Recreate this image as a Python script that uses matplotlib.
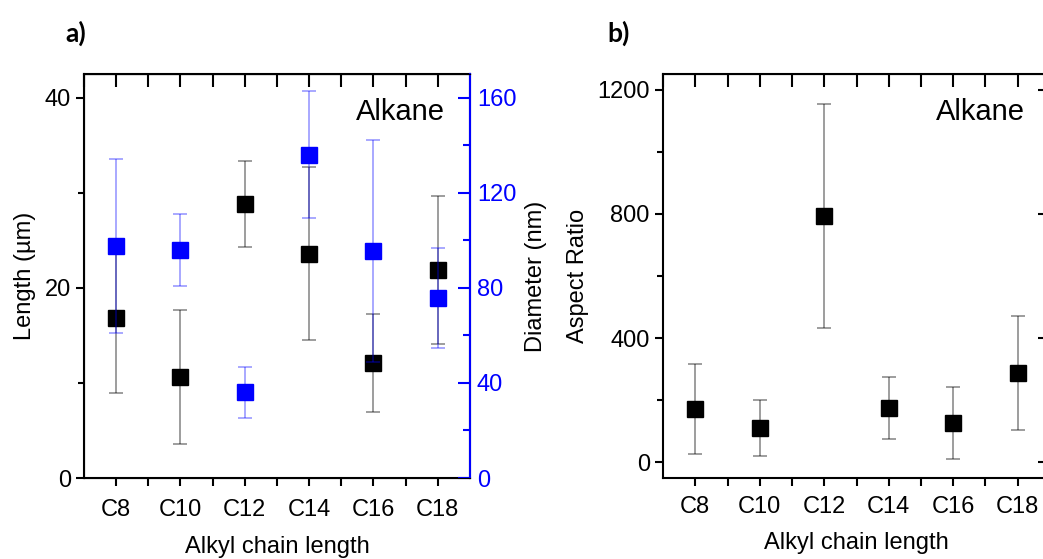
import matplotlib
matplotlib.use("Agg")
import matplotlib.pyplot as plt
import numpy as np
from matplotlib.ticker import MultipleLocator, FixedLocator

plt.rcParams['font.family'] = ['Liberation Sans', 'DejaVu Sans']

chains = ["C8", "C10", "C12", "C14", "C16", "C18"]

length_um = [16.8, 10.6, 28.8, 23.6, 12.1, 21.9]
length_err = [7.9, 7.05, 4.55, 9.1, 5.2, 7.8]

diameter_nm = [97.6, 95.9, 36.1, 136.1, 95.6, 75.7]
diameter_err = [36.7, 15.2, 10.8, 26.9, 46.7, 21.2]

aspect_ratio = [172, 110, 794, 174, 127, 289]
aspect_err = [146, 90, 360, 100, 117, 183]

x = np.arange(len(chains))
blue = "#0000ff"
FS = 17

fig = plt.figure(figsize=(10.43, 5.59), dpi=100)


def style_x(ax, pad, labelpad):
    ax.set_xlim(-0.5, 5.5)
    ax.set_xticks(x)
    ax.set_xticklabels(chains, fontsize=FS)
    ax.xaxis.set_minor_locator(FixedLocator(x[:-1] + 0.5))
    ax.tick_params(axis="x", which="both", direction="out", length=6, width=1.5,
                   top=False, pad=pad)
    # mirrored inward ticks on top
    top = ax.secondary_xaxis("top")
    top.set_xticks(x)
    top.xaxis.set_minor_locator(FixedLocator(np.concatenate([[-0.5], x[:-1] + 0.5])))
    top.tick_params(axis="x", which="both", direction="in", length=9, width=1.5,
                    labeltop=False)
    ax.set_xlabel("Alkyl chain length", fontsize=FS, labelpad=labelpad)
    for s in ax.spines.values():
        s.set_linewidth(1.5)


# ---- panel a
ax1 = fig.add_axes([0.0805, 0.1449, 0.3701, 0.7227])
ax1.errorbar(x, length_um, yerr=length_err, fmt="s", color="black", ms=11,
             ecolor=(0, 0, 0, 0.45), elinewidth=1.2, capsize=5, capthick=1.2)
ax1.set_ylim(0, 42.5)
ax1.yaxis.set_major_locator(MultipleLocator(20))
ax1.yaxis.set_minor_locator(MultipleLocator(10))
ax1.tick_params(axis="y", which="both", direction="out", length=6, width=1.5,
                labelsize=FS, right=False)
ax1.tick_params(axis="y", which="minor", length=4)
ax1.set_ylabel("Length (\u00b5m)", fontsize=FS, labelpad=6)
style_x(ax1, pad=9, labelpad=11)
ax1.text(0.935, 0.905, "Alkane", transform=ax1.transAxes, fontsize=21,
         ha="right", va="center")

ax1r = ax1.twinx()
ax1r.errorbar(x, diameter_nm, yerr=diameter_err, fmt="s", color=blue, ms=11,
              ecolor=(0, 0, 1, 0.4), elinewidth=1.2, capsize=5, capthick=1.2)
ax1r.set_ylim(0, 170)
ax1r.yaxis.set_major_locator(MultipleLocator(40))
ax1r.yaxis.set_minor_locator(MultipleLocator(20))
ax1r.tick_params(axis="y", which="both", direction="in", length=9, width=1.5,
                 colors=blue, labelsize=FS, pad=5)
ax1r.tick_params(axis="y", which="minor", length=5)
ax1r.spines["right"].set_color(blue)
ax1r.spines["right"].set_linewidth(1.5)
ax1r.set_ylabel("Diameter (nm)", fontsize=FS, color="black", labelpad=6)

# ---- panel b
ax2 = fig.add_axes([0.6357, 0.1449, 0.371, 0.7227])
ax2.errorbar(x, aspect_ratio, yerr=aspect_err, fmt="s", color="black", ms=11,
             ecolor=(0, 0, 0, 0.45), elinewidth=1.2, capsize=5, capthick=1.2)
ax2.set_ylim(-50, 1250)
ax2.yaxis.set_major_locator(MultipleLocator(400))
ax2.yaxis.set_minor_locator(MultipleLocator(200))
ax2.tick_params(axis="y", which="both", direction="out", length=6, width=1.5,
                labelsize=FS)
ax2.tick_params(axis="y", which="minor", length=4)
ax2.set_ylabel("Aspect Ratio", fontsize=FS, labelpad=6)
style_x(ax2, pad=7, labelpad=10)
right = ax2.secondary_yaxis("right")
right.yaxis.set_major_locator(MultipleLocator(400))
right.tick_params(axis="y", direction="in", length=9, width=1.5, labelright=False)
ax2.text(0.935, 0.905, "Alkane", transform=ax2.transAxes, fontsize=21,
         ha="right", va="center")

fig.text(0.063, 0.94, "a)", fontsize=19, fontweight="bold", family=["Lato", "DejaVu Sans"],
         va="center")
fig.text(0.582, 0.94, "b)", fontsize=19, fontweight="bold", family=["Lato", "DejaVu Sans"],
         va="center")

fig.savefig("out.png", dpi=100)
